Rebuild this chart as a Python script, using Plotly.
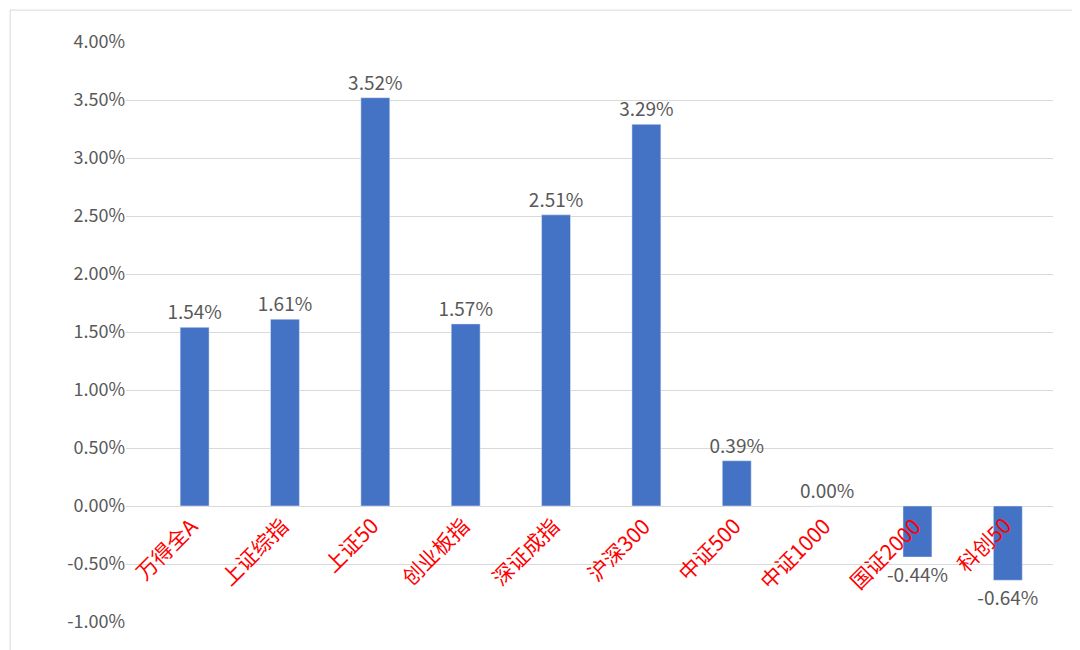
import plotly.graph_objects as go

categories = ["万得全A", "上证综指", "上证50", "创业板指", "深证成指", "沪深300",
              "中证500", "中证1000", "国证2000", "科创50"]
returns = [1.54, 1.61, 3.52, 1.57, 2.51, 3.29, 0.39, 0.00, -0.44, -0.64]
tick_vals = [-1.0, -0.5, 0.0, 0.5, 1.0, 1.5, 2.0, 2.5, 3.0, 3.5, 4.0]
tick_text = ["%.2f%%" % v for v in tick_vals]

fig = go.Figure()
fig.add_trace(go.Bar(
    x=categories, y=returns, width=0.32,
    marker_color="#4472C4",
    text=["%.2f%%" % v for v in returns],
    textposition="outside", cliponaxis=False, constraintext="none",
    textfont=dict(size=19, color="#595959"),
))

# category labels sit on the zero line, rotated
for c in categories:
    fig.add_annotation(x=c, y=0, text=c, showarrow=False, textangle=-45,
                       xanchor="right", yanchor="top", xshift=12, yshift=-2,
                       font=dict(size=21, color="#FF0000"))

fig.update_layout(
    width=1080, height=650,
    margin=dict(l=118, r=35, t=34, b=36, autoexpand=False),
    plot_bgcolor="white", paper_bgcolor="white",
    font=dict(family="Noto Sans CJK SC, Noto Sans, sans-serif"),
    showlegend=False,
    uniformtext=dict(minsize=19, mode="show"),
    xaxis=dict(showticklabels=False, showline=False, automargin=False),
    yaxis=dict(range=[-1.0, 4.0], tickvals=tick_vals, ticktext=tick_text,
               automargin=False,
               showgrid=True, gridcolor="#D9D9D9", gridwidth=1, zeroline=True,
               zerolinecolor="#D9D9D9", zerolinewidth=1,
               tickfont=dict(size=18, color="#595959")),
    shapes=[dict(type="rect", xref="paper", yref="paper", x0=-0.125, x1=1.035,
                 y0=-0.058, y1=1.055, line=dict(color="#D9D9D9", width=1))],
)

fig.write_html("out.html")
